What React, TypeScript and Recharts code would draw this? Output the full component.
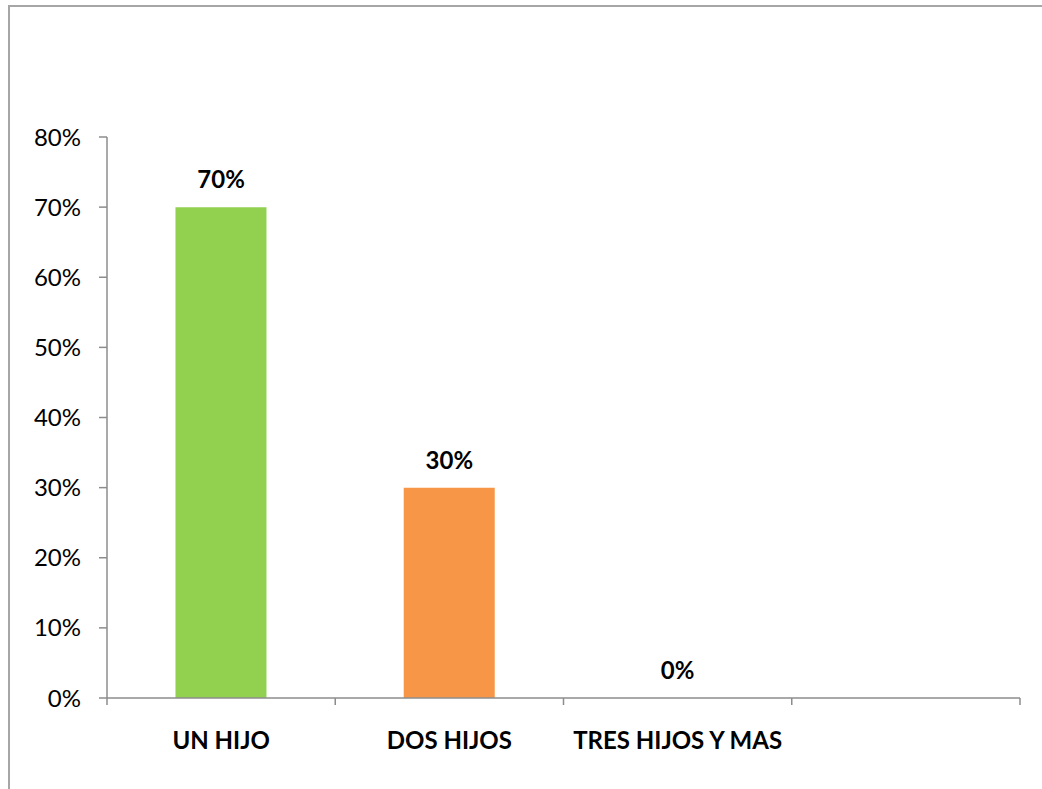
import React from "react";
import { ComposedChart, Bar, Line, XAxis, YAxis, Cell, LabelList } from "recharts";

const categories = ["UN HIJO", "DOS HIJOS", "TRES HIJOS Y MAS", ""];
const shares: (number | null)[] = [0.7, 0.3, 0, null];
const barColors = ["#92D050", "#F79646", "#4F81BD", "#4F81BD"];
const yTicks = [0, 0.1, 0.2, 0.3, 0.4, 0.5, 0.6, 0.7, 0.8];

const data = categories.map((cat, i) => ({ cat, share: shares[i] }));

const FONT = "Lato, 'Noto Sans', sans-serif";
const AXIS_COLOR = "#8c8c8c";
const LABEL_GAP = 34;

const pct = (v: any) => (v == null ? "" : `${Math.round(Number(v) * 100)}%`);

function CategoryTick(props: any) {
  const { x, y, payload, index } = props;
  const half = payload?.offset ?? 0;
  const lineY = y - LABEL_GAP;
  const last = index === categories.length - 1;
  return (
    <g>
      <line x1={x - half} x2={x - half} y1={lineY} y2={lineY + 7} stroke={AXIS_COLOR} strokeWidth={1.5} />
      {last && (
        <line x1={x + half} x2={x + half} y1={lineY} y2={lineY + 7} stroke={AXIS_COLOR} strokeWidth={1.5} />
      )}
      <text x={x} y={y} dy="0.71em" textAnchor="middle" fontFamily={FONT} fontSize={24} fontWeight="bold" fill="#000">
        {payload.value}
      </text>
    </g>
  );
}

export default function App() {
  return (
    <div style={{ position: "absolute", left: 0, top: 0, width: 1042, height: 789, overflow: "hidden", background: "#fff" }}>
      <div
        style={{
          position: "absolute",
          left: 8,
          top: 5,
          width: 1100,
          height: 900,
          border: "2px solid #a6a6a6",
        }}
      />
      <div style={{ position: "absolute", left: 0, top: 0 }}>
        <ComposedChart
          width={1042}
          height={789}
          data={data}
          margin={{ top: 137, right: 22, bottom: 0, left: 0 }}
          barCategoryGap="30%"
        >
          <XAxis
            dataKey="cat"
            height={91}
            interval={0}
            tickLine={false}
            tickSize={0}
            tickMargin={LABEL_GAP}
            axisLine={{ stroke: AXIS_COLOR, strokeWidth: 1.5 }}
            tick={<CategoryTick />}
          />
          <YAxis
            width={107}
            domain={[0, 0.8]}
            ticks={yTicks}
            interval={0}
            tickFormatter={pct}
            tickSize={8}
            tickMargin={18}
            axisLine={{ stroke: AXIS_COLOR, strokeWidth: 1.5 }}
            tickLine={{ stroke: AXIS_COLOR, strokeWidth: 1.5 }}
            tick={{ fill: "#000", fontSize: 24, fontFamily: FONT }}
          />
          <Bar dataKey="share" isAnimationActive={false}>
            {data.map((d, i) => (
              <Cell key={d.cat + i} fill={barColors[i]} />
            ))}
          </Bar>
          {/* invisible line just to carry the value labels (incl. the 0% one) */}
          <Line dataKey="share" stroke="none" dot={false} activeDot={false} isAnimationActive={false}>
            <LabelList
              dataKey="share"
              position="top"
              offset={19}
              formatter={pct}
              fill="#000"
              fontSize={24}
              fontWeight="bold"
              fontFamily={FONT}
            />
          </Line>
        </ComposedChart>
      </div>
    </div>
  );
}
